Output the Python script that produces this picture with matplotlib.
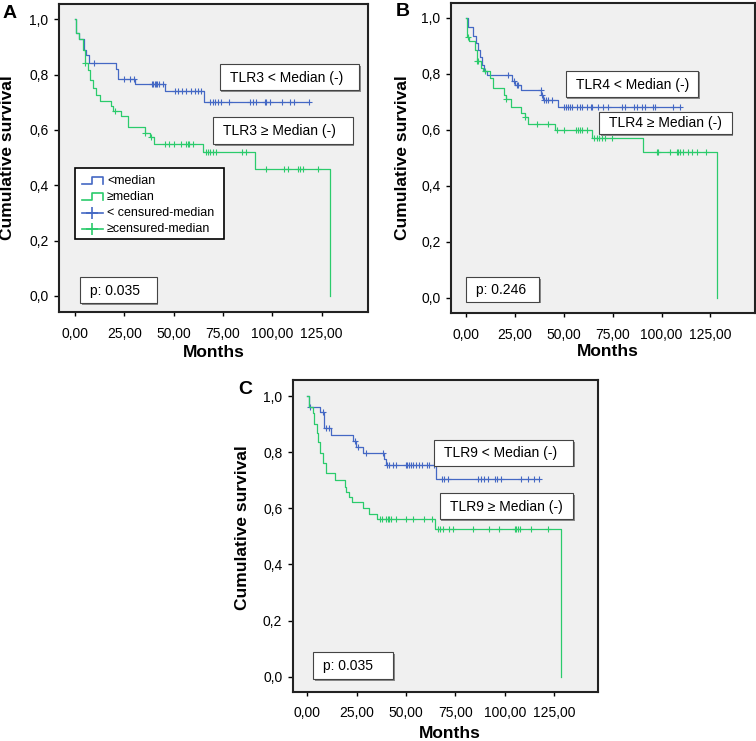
import matplotlib.pyplot as plt
import numpy as np
from matplotlib.patches import Rectangle
from matplotlib.lines import Line2D

plt.rcParams['font.family'] = ['Liberation Sans', 'DejaVu Sans']

W, H = 756, 741                                   # figure size in pixels
blue = '#4468c4'
green = '#2bcb6c'
bg = '#f0f0f0'

x_ticks = [0, 25, 50, 75, 100, 125]
x_tick_labels = ['0,00', '25,00', '50,00', '75,00', '100,00', '125,00']
y_ticks = [0.0, 0.2, 0.4, 0.6, 0.8, 1.0]
y_tick_labels = ['0,0', '0,2', '0,4', '0,6', '0,8', '1,0']

# Panel A - TLR3
a_low_times = [0.5, 2.0, 4.6, 5.8, 7.0, 20.7, 22.0, 30.5, 45.8, 65.6]
a_low_surv = [0.95, 0.93, 0.89, 0.87, 0.84, 0.82, 0.785, 0.765, 0.74, 0.70]
a_low_cens = [9.7, 24.9, 28.0, 29.7, 39.0, 39.6, 40.3, 41.0, 41.7, 42.4, 44.4,
              50.9, 52.0, 54.3, 56.3, 58.8, 61.0, 62.2, 63.9, 68.5, 69.8, 71.2,
              72.4, 74.1, 78.3, 88.8, 90.2, 91.5, 96.1, 96.9, 99.0, 105.1, 108.8,
              110.9, 118.7]
a_high_times = [0.3, 2.0, 4.0, 5.1, 6.6, 7.4, 9.1, 10.8, 12.9, 18.5, 19.5, 23.5,
                27.0, 35.4, 38.0, 39.8, 65.1, 91.0, 129.2]
a_high_surv = [0.95, 0.93, 0.89, 0.84, 0.815, 0.78, 0.75, 0.725, 0.705, 0.685,
               0.67, 0.65, 0.61, 0.59, 0.575, 0.55, 0.52, 0.46, 0.0]
a_high_cens = [5.2, 20.5, 35.5, 38.5, 45.8, 47.8, 50.4, 53.8, 56.3, 57.1, 58.0,
               59.7, 66.5, 67.3, 68.2, 69.9, 71.5, 84.8, 86.8, 97.0, 106.1, 107.8,
               112.9, 113.8, 115.5, 123.2]

# Panel B - TLR4
b_low_times = [0.8, 3.4, 5.1, 6.3, 7.2, 8.0, 9.2, 10.6, 23.4, 25.0, 27.9, 38.4,
               39.2, 46.9]
b_low_surv = [0.965, 0.935, 0.91, 0.885, 0.86, 0.83, 0.81, 0.795, 0.775, 0.76,
              0.74, 0.725, 0.705, 0.68]
b_low_cens = [21.3, 24.5, 26.0, 26.8, 38.2, 38.8, 40.1, 40.8, 41.8, 43.9, 50.3,
              51.0, 52.0, 53.2, 54.4, 56.6, 58.3, 59.5, 61.8, 64.0, 64.6, 67.4,
              70.3, 72.8, 79.6, 81.1, 85.7, 87.3, 89.9, 91.3, 95.8, 96.7, 106.1,
              109.2]
b_high_times = [0.5, 1.5, 4.7, 5.5, 7.7, 8.9, 12.3, 14.0, 19.6, 20.4, 23.0, 27.9,
                29.9, 31.6, 45.6, 64.6, 90.4, 128.5]
b_high_surv = [0.93, 0.915, 0.885, 0.845, 0.82, 0.81, 0.785, 0.75, 0.725, 0.71,
               0.68, 0.66, 0.645, 0.62, 0.60, 0.57, 0.52, 0.0]
b_high_cens = [1.2, 5.6, 6.3, 9.7, 20.5, 30.3, 36.2, 42.1, 46.4, 50.3, 56.3, 57.5,
               58.3, 59.2, 62.1, 65.6, 66.8, 68.0, 69.4, 71.1, 74.8, 97.5, 98.4,
               104.4, 107.8, 108.6, 109.5, 111.2, 113.7, 115.8, 118.0, 122.6]

# Panel C - TLR9
c_low_times = [0.8, 6.4, 8.4, 12.2, 23.1, 24.7, 28.1, 38.9, 39.8, 65.2]
c_low_surv = [0.962, 0.944, 0.885, 0.86, 0.84, 0.82, 0.796, 0.776, 0.755, 0.705]
c_low_cens = [1.3, 7.7, 9.7, 11.0, 23.9, 25.5, 29.8, 38.4, 40.1, 41.5, 43.5, 45.1,
              49.8, 50.6, 51.5, 52.3, 53.5, 54.8, 56.5, 58.2, 60.7, 61.5, 64.0,
              68.2, 69.0, 71.2, 86.6, 87.9, 89.6, 91.6, 94.9, 96.2, 97.9, 108.0,
              111.6, 115.0, 117.5]
c_high_times = [0.8, 3.0, 3.4, 5.1, 5.6, 6.4, 7.7, 9.7, 14.0, 19.0, 19.8, 21.2,
                22.8, 28.2, 31.2, 35.2, 64.8, 128.5]
c_high_surv = [0.962, 0.94, 0.9, 0.867, 0.837, 0.796, 0.76, 0.725, 0.70, 0.677,
               0.659, 0.641, 0.621, 0.60, 0.58, 0.561, 0.525, 0.0]
c_high_cens = [36.8, 37.8, 39.8, 40.6, 41.5, 42.3, 45.1, 49.8, 53.5, 59.0, 63.2,
               66.2, 67.4, 68.5, 71.9, 74.0, 84.1, 92.1, 97.0, 105.0, 105.8, 106.6,
               107.5, 113.0, 121.7]

p_values = ['p: 0.035', 'p: 0.246', 'p: 0.035']
genes = ['TLR3', 'TLR4', 'TLR9']
legend_labels = ['<median', '\u2265median', '< censured-median', '\u2265censured-median']


def px(x, y):
    """Pixel coordinates (from top left) to figure fraction."""
    return x / W, 1 - y / H


def km(ax, times, surv, cens, color):
    t = np.array([0.0] + times)
    s = np.array([1.0] + surv)
    if max(cens) > t[-1]:
        t = np.append(t, max(cens))
        s = np.append(s, s[-1])
    ax.step(t, s, where='post', color=color, lw=0.9)
    idx = np.searchsorted(t, cens, side='right') - 1
    ax.plot(cens, s[idx], '+', color=color, ms=4.5, mew=0.8)


def box(fig, x0, y0, x1, y1, text, size=10):
    sx, sy = px(x0 + 1.5, y1 + 1.5)
    fig.add_artist(Rectangle((sx, sy), (x1 - x0) / W, (y1 - y0) / H,
                             transform=fig.transFigure, fc='#8a8a8a', ec='none', zorder=4))
    rx, ry = px(x0, y1)
    fig.add_artist(Rectangle((rx, ry), (x1 - x0) / W, (y1 - y0) / H,
                             transform=fig.transFigure, fc='white', ec='#444444', lw=0.8, zorder=5))
    tx, ty = px(x0 + 10, (y0 + y1) / 2 + 0.5)
    fig.text(tx, ty, text, fontsize=size, ha='left', va='center', zorder=6)


fig = plt.figure(figsize=(W / 100, H / 100), dpi=100)

panels = [
    # axes pixel box, xlim, ylim, data, label pos, ylabel pos, xlabel pos, boxes
    dict(rect=(59, 4, 368, 312), xlim=(-8.1, 148.5), ylim=(-0.058, 1.055),
         data=(a_low_times, a_low_surv, a_low_cens, a_high_times, a_high_surv, a_high_cens),
         letter='A', lpos=(10, 13), ypos=(8, 158), xpos=(214, 353),
         b1=(220, 64.3, 359, 90), b2=(213.3, 117.3, 352.7, 144), bp=(80, 276.7, 156.7, 303.3)),
    dict(rect=(451, 3, 755, 313), xlim=(-7.7, 147.8), ylim=(-0.055, 1.0525),
         data=(b_low_times, b_low_surv, b_low_cens, b_high_times, b_high_surv, b_high_cens),
         letter='B', lpos=(403, 11), ypos=(402.5, 158), xpos=(608, 351.5),
         b1=(565.7, 70.7, 698.3, 97.3), b2=(599, 111.7, 731.7, 134.3), bp=(465.7, 277.3, 539, 301.7)),
    dict(rect=(292.7, 380, 597.5, 691.7), xlim=(-7.4, 146.9), ylim=(-0.0534, 1.057),
         data=(c_low_times, c_low_surv, c_low_cens, c_high_times, c_high_surv, c_high_cens),
         letter='C', lpos=(245, 390), ypos=(242.5, 527.5), xpos=(450, 734),
         b1=(434, 440, 573.3, 465.7), b2=(440, 493.3, 573.3, 519.3), bp=(313.3, 652.3, 393.3, 679)),
]

for i, p in enumerate(panels):
    x0, y0, x1, y1 = p['rect']
    left, bottom = px(x0, y1)
    ax = fig.add_axes([left, bottom, (x1 - x0) / W, (y1 - y0) / H])
    ax.set_facecolor(bg)
    lt, ls, lc, ht, hs, hc = p['data']
    km(ax, lt, ls, lc, blue)
    km(ax, ht, hs, hc, green)
    ax.set_xlim(*p['xlim'])
    ax.set_ylim(*p['ylim'])
    ax.set_xticks(x_ticks, x_tick_labels, fontsize=10)
    ax.set_yticks(y_ticks, y_tick_labels, fontsize=10)
    ax.tick_params(axis='x', length=3, width=1, pad=7.5)
    ax.tick_params(axis='y', length=3.5, width=1, pad=4)
    for sp in ax.spines.values():
        sp.set_linewidth(1.5)
        sp.set_color('#222222')

    fig.text(*px(*p['lpos']), p['letter'], fontsize=14, fontweight='bold', ha='center', va='center')
    fig.text(*px(*p['ypos']), 'Cumulative survival', fontsize=12.5, fontweight='bold',
             rotation=90, ha='center', va='center')
    fig.text(*px(*p['xpos']), 'Months', fontsize=12.5, fontweight='bold', ha='center', va='center')

    box(fig, *p['b1'], genes[i] + ' < Median (-)')
    box(fig, *p['b2'], genes[i] + ' \u2265 Median (-)')
    box(fig, *p['bp'], p_values[i])

# Legend of panel A, drawn by hand like the SPSS one
lx0, ly0, lx1, ly1 = 75.3, 168, 224.3, 238.7
rx, ry = px(lx0, ly1)
fig.add_artist(Rectangle((rx, ry), (lx1 - lx0) / W, (ly1 - ly0) / H, transform=fig.transFigure,
                         fc='white', ec='black', lw=1.2, zorder=5))
entry_y = [181, 197, 213, 228.7]
entry_col = [blue, green, blue, green]
for k, (yy, col, lab) in enumerate(zip(entry_y, entry_col, legend_labels)):
    if k < 2:
        xs = np.array([81.7, 92, 92, 103, 103])
        ys = np.array([yy + 3, yy + 3, yy - 4, yy - 4, yy + 3])
        fig.add_artist(Line2D(xs / W, 1 - ys / H, transform=fig.transFigure,
                              color=col, lw=1.2, zorder=6))
    else:
        fig.add_artist(Line2D(np.array([81.7, 103]) / W, 1 - np.array([yy, yy]) / H,
                              transform=fig.transFigure, color=col, lw=1.2, zorder=6))
        fig.add_artist(Line2D(np.array([92]) / W, 1 - np.array([yy]) / H, transform=fig.transFigure,
                              color=col, marker='+', ms=8, mew=1.2, lw=0, zorder=6))
    fig.text(*px(107, yy), lab, fontsize=9, ha='left', va='center', zorder=6)

fig.savefig('out.png', dpi=100)
